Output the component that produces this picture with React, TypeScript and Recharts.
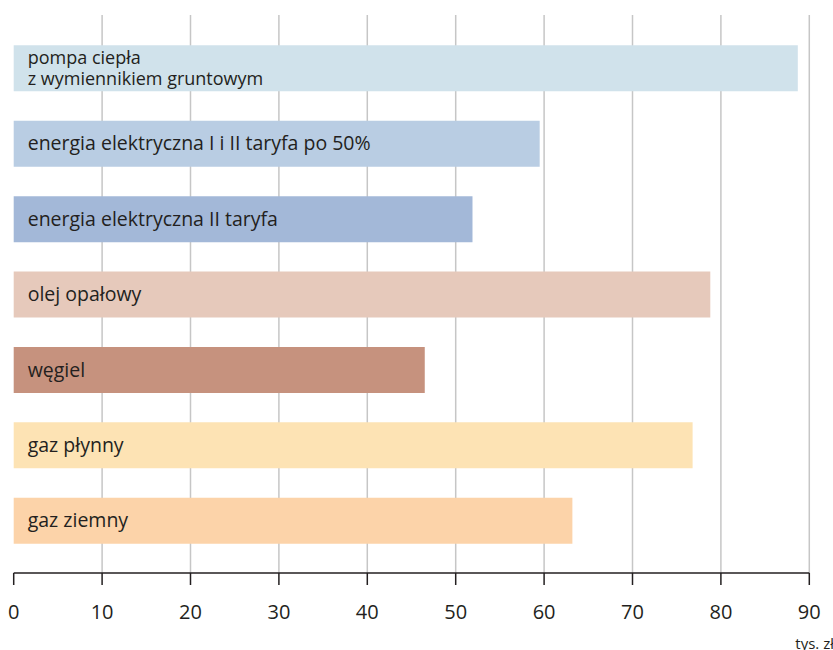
import React from 'react';
import { BarChart, Bar, XAxis, YAxis, CartesianGrid, LabelList, Cell, Label } from 'recharts';

// Heating cost comparison (thousand PLN)
const categories = [
  'pompa ciepła\nz wymiennikiem gruntowym',
  'energia elektryczna I i II taryfa po 50%',
  'energia elektryczna II taryfa',
  'olej opałowy',
  'węgiel',
  'gaz płynny',
  'gaz ziemny',
];
const costs = [88.7, 59.5, 51.9, 78.8, 46.5, 76.8, 63.2];
const barColors = ['#d0e2eb', '#b9cde3', '#a3b8d8', '#e6c9bb', '#c6927e', '#fde3b4', '#fcd3a9'];
const xTicks = [0, 10, 20, 30, 40, 50, 60, 70, 80, 90];
const gridValues = [10, 20, 30, 40, 50, 60, 70, 80, 90];
const unitLabel = 'tys. zł';

const data = categories.map((name, i) => ({ name, cost: costs[i] }));

const FONT = '"Open Sans", "Noto Sans", sans-serif';

const BarName = (props: any) => {
  const { x, y, height, value } = props;
  const lines = String(value).split('\n');
  const multi = lines.length > 1;
  const fs = multi ? 18 : 19.5;
  const lh = 21;
  const cy = y + height / 2;
  const first = cy - ((lines.length - 1) * lh) / 2 + fs * 0.34;
  return (
    <text x={x + 14} y={first} fill="#231f20" fontSize={fs} fontFamily={FONT}>
      {lines.map((l: string, i: number) => (
        <tspan key={i} x={x + 14} y={first + i * lh}>
          {l}
        </tspan>
      ))}
    </text>
  );
};

const UnitLabel = (props: any) => {
  const vb = props.viewBox || {};
  return (
    <text
      x={vb.x + vb.width - 14}
      y={vb.y + vb.height - 1}
      fontSize={15}
      fill="#231f20"
      fontFamily={FONT}
    >
      {unitLabel}
    </text>
  );
};

export default function App() {
  return (
    <div style={{ position: 'absolute', left: 0, top: 0, width: 833, height: 650, background: '#fff' }}>
      <BarChart
        width={833}
        height={650}
        data={data}
        layout="vertical"
        margin={{ top: 15, right: 23.7, left: 13.7, bottom: 0 }}
        barSize={46}
      >
        <CartesianGrid
          horizontal={false}
          vertical
          verticalValues={gridValues}
          stroke="#c6c6c6"
          strokeWidth={1.5}
        />
        <XAxis
          type="number"
          domain={[0, 90]}
          ticks={xTicks}
          height={77}
          tickSize={12}
          tickMargin={20}
          axisLine={{ stroke: '#231f20', strokeWidth: 1.5 }}
          tickLine={{ stroke: '#231f20', strokeWidth: 1.5 }}
          tick={{ fill: '#231f20', fontSize: 20, fontFamily: FONT }}
          interval={0}
        >
          <Label content={<UnitLabel />} />
        </XAxis>
        <YAxis type="category" dataKey="name" hide padding={{ top: 15.3, bottom: 14.8 }} />
        <Bar dataKey="cost" isAnimationActive={false}>
          {data.map((_, i) => (
            <Cell key={i} fill={barColors[i]} />
          ))}
          <LabelList dataKey="name" content={<BarName />} />
        </Bar>
      </BarChart>
    </div>
  );
}
